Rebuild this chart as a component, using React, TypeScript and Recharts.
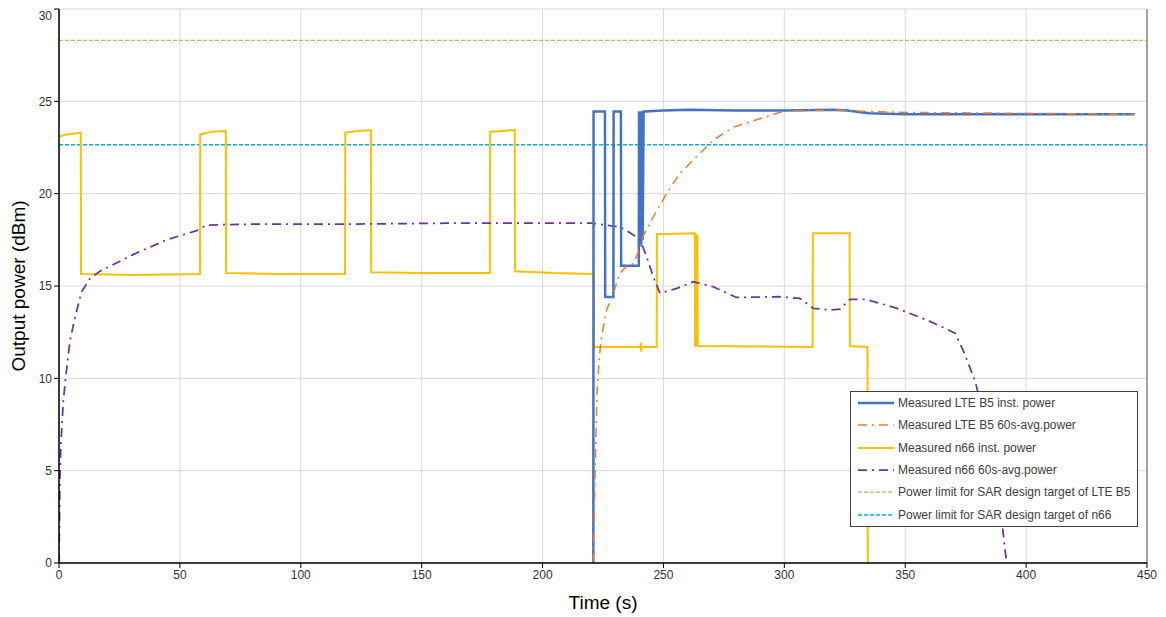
import { LineChart, Line, XAxis, YAxis, CartesianGrid, ReferenceLine, Legend } from "recharts"

// time axis (s) and values (dBm)
const xTicks = [0, 50, 100, 150, 200, 250, 300, 350, 400, 450]
const yTicks = [0, 5, 10, 15, 20, 25, 30]

const lteInstTime = [221, 221.1, 225.8, 225.9, 229.3, 229.4, 232.4, 232.5, 239.8, 239.9, 240.3, 240.4, 240.8, 240.9, 241.3, 241.4, 241.8, 242.2, 250, 260, 280, 300, 320, 326, 335, 350, 400, 445]
const lteInstPower = [0, 24.45, 24.45, 14.4, 14.4, 24.45, 24.45, 16.1, 16.1, 24.4, 24.4, 17.2, 17.2, 24.4, 24.4, 17.5, 24.45, 24.45, 24.5, 24.55, 24.5, 24.5, 24.55, 24.5, 24.35, 24.3, 24.3, 24.3]

const lteAvgTime = [221, 221.5, 222, 222.6, 223.5, 224.4, 226.5, 229, 232, 235, 237.5, 239.5, 241.6, 245.8, 251.3, 256.8, 263.7, 270.6, 278.9, 288.5, 299.5, 310, 325, 335, 350, 400, 445]
const lteAvgPower = [0, 3.5, 6.5, 9.4, 11.2, 12.25, 13.7, 14.5, 15.7, 16.1, 16.2, 16.8, 17.7, 18.75, 20.0, 21.1, 22.0, 22.9, 23.6, 24.0, 24.45, 24.5, 24.5, 24.45, 24.4, 24.35, 24.3]

const n66InstTime = [0, 3, 9, 9.1, 30, 58.3, 58.4, 63, 69, 69.1, 90, 118.3, 118.4, 124, 129, 129.1, 150, 178.2, 178.3, 184, 188.5, 188.6, 205, 221.2, 221.3, 240.5, 240.6, 240.8, 241, 247.2, 247.3, 263, 263.1, 263.4, 263.7, 264, 264.2, 311.7, 311.8, 327, 327.1, 334.4, 334.5]
const n66InstPower = [23.1, 23.2, 23.3, 15.65, 15.6, 15.65, 23.2, 23.35, 23.4, 15.7, 15.65, 15.65, 23.3, 23.4, 23.45, 15.75, 15.7, 15.7, 23.35, 23.4, 23.45, 15.8, 15.7, 15.65, 11.7, 11.7, 11.95, 11.45, 11.7, 11.7, 17.8, 17.85, 11.7, 17.8, 11.75, 17.8, 11.75, 11.7, 17.85, 17.85, 11.75, 11.7, 0]

const n66AvgTime = [0, 0.4, 0.8, 1.8, 2.9, 4.5, 6.6, 9.4, 12.8, 16.9, 30.6, 44.5, 57, 61, 80, 120, 160, 200, 220, 226, 232, 236, 238.9, 241, 243, 245.8, 248.6, 255.5, 262.3, 270.6, 280.2, 298, 306.4, 312, 318.9, 323, 327.1, 334, 346.4, 360, 370.6, 374, 378.8, 385, 389, 391.2, 392]
const n66AvgPower = [0, 4.7, 6.5, 8.8, 10.2, 12.0, 13.3, 14.7, 15.4, 15.8, 16.7, 17.5, 18.0, 18.3, 18.35, 18.35, 18.4, 18.4, 18.4, 18.3, 18.2, 17.9, 17.65, 17.3, 16.6, 15.5, 14.6, 14.87, 15.23, 14.96, 14.38, 14.42, 14.33, 13.79, 13.7, 13.75, 14.27, 14.27, 13.8, 13.1, 12.45, 11.5, 9.9, 6.7, 3.4, 0.8, 0]

const sarLimitLteB5 = 28.3
const sarLimitN66 = 22.65

const zip = (t: number[], v: number[]) => t.map((x, i) => ({ t: x, v: v[i] }))

const legendItems = [
  { name: "Measured LTE B5 inst. power", color: "#4472C4", dash: "", width: 2.5 },
  { name: "Measured LTE B5 60s-avg.power", color: "#ED7D31", dash: "9 5 2 5", width: 1.5 },
  { name: "Measured n66 inst. power", color: "#FFC000", dash: "", width: 2 },
  { name: "Measured n66 60s-avg.power", color: "#7030A0", dash: "9 5 2 5", width: 1.75 },
  { name: "Power limit for SAR design target of LTE B5", color: "#92D050", dash: "4 2", width: 1.25 },
  { name: "Power limit for SAR design target of n66", color: "#00B0F0", dash: "4 2", width: 1.5 },
]

function LegendBox() {
  return (
    <div
      style={{
        width: 286,
        border: "1px solid #404040",
        background: "#fff",
        fontFamily: "'Liberation Sans', Arial, sans-serif",
        fontSize: 12,
        color: "#404040",
      }}
    >
      {legendItems.map((item) => (
        <div key={item.name} style={{ height: 22.3, display: "flex", alignItems: "center" }}>
          <svg width={47} height={10} style={{ flex: "none" }}>
            <line
              x1={7}
              x2={43}
              y1={5}
              y2={5}
              stroke={item.color}
              strokeWidth={item.width}
              strokeDasharray={item.dash || undefined}
            />
          </svg>
          <span style={{ whiteSpace: "nowrap" }}>{item.name}</span>
        </div>
      ))}
    </div>
  )
}

export default function App() {
  const tickStyle = { fontSize: 12, fill: "#333", fontFamily: "'Liberation Sans', Arial, sans-serif" }
  return (
    <div style={{ fontFamily: "'Liberation Sans', Arial, sans-serif" }}>
      <LineChart width={1150} height={609} margin={{ top: 1, right: 11, left: 0, bottom: 0 }}>
        <CartesianGrid stroke="#d9d9d9" strokeWidth={1} />
        <XAxis
          type="number"
          dataKey="t"
          domain={[0, 450]}
          ticks={xTicks}
          height={54}
          tick={tickStyle}
          tickSize={5}
          tickLine={{ stroke: "#000" }}
          axisLine={{ stroke: "#000", strokeWidth: 1.5 }}
          allowDataOverflow
          label={{ value: "Time (s)", position: "center", dy: 12, fontSize: 19, fill: "#000" }}
        />
        <YAxis
          type="number"
          domain={[0, 30]}
          ticks={yTicks}
          width={51}
          tick={tickStyle}
          tickSize={5}
          tickLine={{ stroke: "#000" }}
          axisLine={{ stroke: "#000", strokeWidth: 1.5 }}
          allowDataOverflow
          label={{ value: "Output power (dBm)", angle: -90, position: "center", dx: -15, fontSize: 19, fill: "#000" }}
        />
        <ReferenceLine x={450} stroke="#595959" strokeWidth={1} />
        <ReferenceLine y={sarLimitLteB5} stroke="#92D050" strokeWidth={1.25} strokeDasharray="4 2" />
        <ReferenceLine y={sarLimitN66} stroke="#00B0F0" strokeWidth={1.5} strokeDasharray="4 2" />
        <Line
          data={zip(n66InstTime, n66InstPower)}
          dataKey="v"
          type="linear"
          stroke="#FFC000"
          strokeWidth={2}
          dot={false}
          activeDot={false}
          isAnimationActive={false}
        />
        <Line
          data={zip(n66AvgTime, n66AvgPower)}
          dataKey="v"
          type="linear"
          stroke="#7030A0"
          strokeWidth={1.75}
          strokeDasharray="9 5 2 5"
          dot={false}
          activeDot={false}
          isAnimationActive={false}
        />
        <Line
          data={zip(lteInstTime, lteInstPower)}
          dataKey="v"
          type="linear"
          stroke="#4472C4"
          strokeWidth={2.5}
          dot={false}
          activeDot={false}
          isAnimationActive={false}
        />
        <Line
          data={zip(lteAvgTime, lteAvgPower)}
          dataKey="v"
          type="linear"
          stroke="#ED7D31"
          strokeWidth={1.5}
          strokeDasharray="9 5 2 5"
          dot={false}
          activeDot={false}
          isAnimationActive={false}
        />
        <Legend
          layout="vertical"
          align="center"
          verticalAlign="middle"
          content={() => <LegendBox />}
          wrapperStyle={{ position: "absolute", left: 842, top: 383, width: 288, height: "auto" }}
        />
      </LineChart>
    </div>
  )
}
